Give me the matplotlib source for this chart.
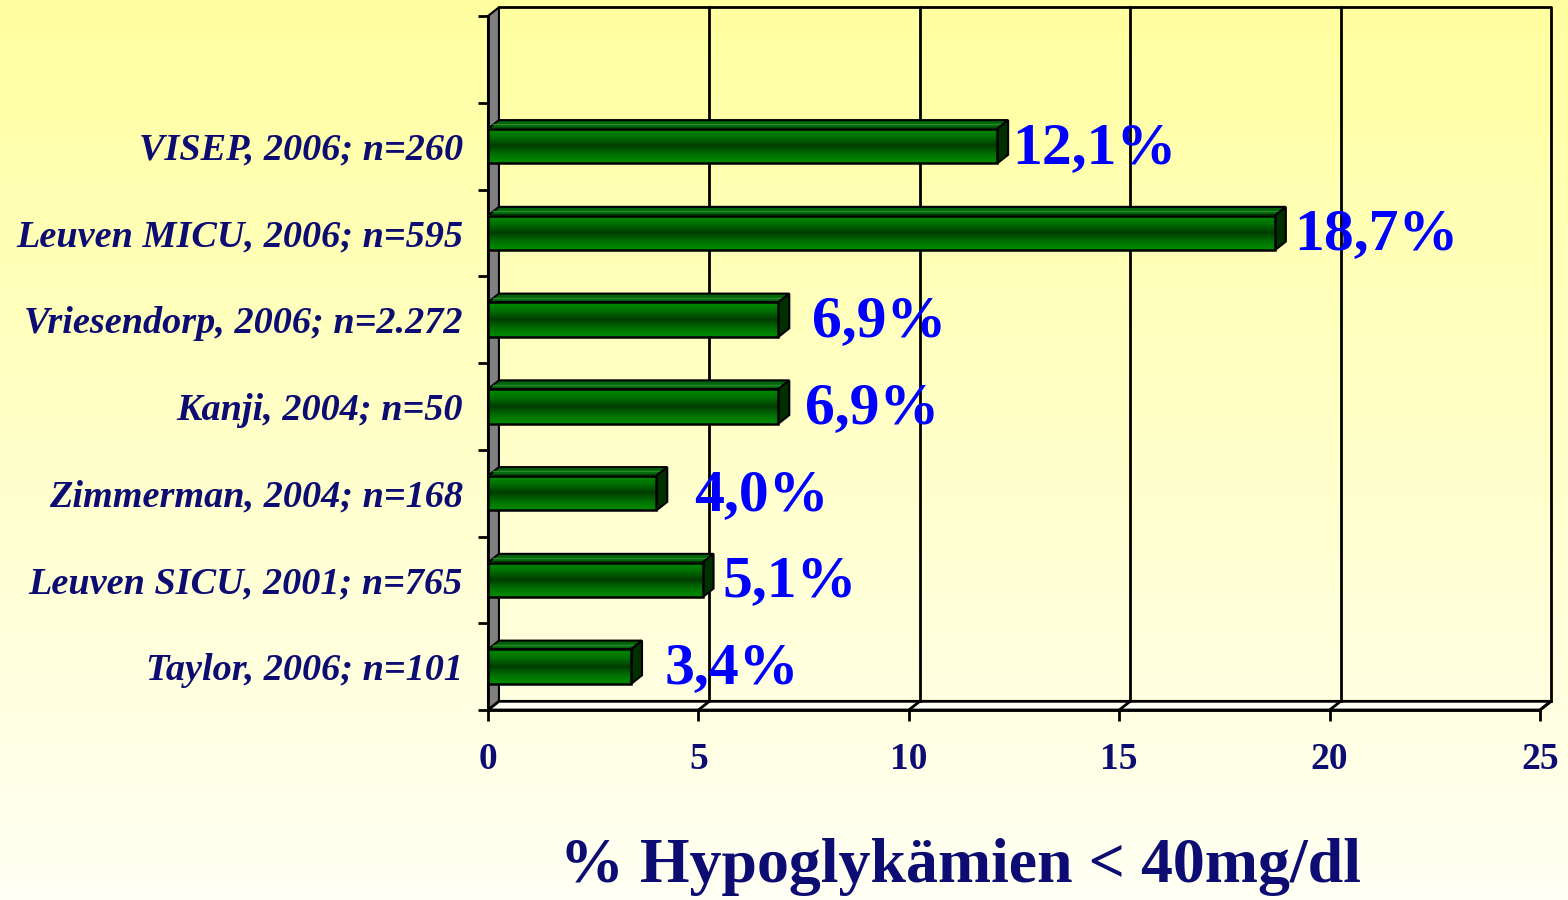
import numpy as np
import matplotlib
matplotlib.use("Agg")
import matplotlib.pyplot as plt
from matplotlib.patches import Polygon
from matplotlib.colors import LinearSegmentedColormap

# data, bottom to top as in the chart
studies = [
    "Taylor, 2006; n=101",
    "Leuven SICU, 2001; n=765",
    "Zimmerman, 2004; n=168",
    "Kanji, 2004; n=50",
    "Vriesendorp, 2006; n=2.272",
    "Leuven MICU, 2006; n=595",
    "VISEP, 2006; n=260",
]
hypo_pct = [3.4, 5.1, 4.0, 6.9, 6.9, 18.7, 12.1]
x_ticks = [0, 5, 10, 15, 20, 25]
x_label = "% Hypoglykämien < 40mg/dl"

# label gaps after the bar end (points), as placed in the original
label_gap = [24, 14, 27, 19, 24, 14, 11]

NAVY = "#0c0c72"
SERIF = "Liberation Serif"
X_MAX = 25
N_SLOTS = len(studies) + 1  # one empty slot on top
DX, DY = 0.26, 0.1  # 3d depth in data units
BAR_H = 0.4

fig = plt.figure(figsize=(15.68, 9), dpi=100)

# background gradient
bg = fig.add_axes([0, 0, 1, 1], zorder=-10)
bg_cmap = LinearSegmentedColormap.from_list("bg", ["#ffffa0", "#fffff4"])
bg.imshow(np.linspace(0, 1, 256).reshape(-1, 1), aspect="auto", cmap=bg_cmap,
          extent=[0, 1, 0, 1], origin="upper")
bg.axis("off")

ax = fig.add_axes([488 / 1568, 190 / 900, (1540 - 488) / 1568, (710 - 16) / 900])
ax.patch.set_alpha(0)
y_lo, y_hi = -0.5, N_SLOTS - 0.5

# left wall (grey) and floor
ax.add_patch(Polygon([(0, y_lo), (DX, y_lo + DY), (DX, y_hi + DY), (0, y_hi)],
                     closed=True, fc="#808080", ec="black", lw=1.5, clip_on=False, zorder=1))
ax.add_patch(Polygon([(0, y_lo), (X_MAX, y_lo), (X_MAX + DX, y_lo + DY), (DX, y_lo + DY)],
                     closed=True, fc="#fffff6", ec="black", lw=2, clip_on=False, zorder=1))
# back wall outline + gridlines
ax.plot([DX, X_MAX + DX, X_MAX + DX], [y_hi + DY, y_hi + DY, y_lo + DY],
        color="black", lw=2, clip_on=False, zorder=1)
for v in x_ticks[1:-1]:
    ax.plot([v + DX, v + DX], [y_lo + DY, y_hi + DY], color="black", lw=2, clip_on=False, zorder=1)
for v in x_ticks[1:]:
    ax.plot([v, v + DX], [y_lo, y_lo + DY], color="black", lw=2, clip_on=False, zorder=1)

# 3d bars
g = np.linspace(0, 1, 60)
shade = np.abs(g - 0.5) * 2
bar_cmap = LinearSegmentedColormap.from_list("bar", ["#003e00", "#007000", "#008c00"])
for i, v in enumerate(hypo_pct):
    y0, y1 = i - BAR_H / 2, i + BAR_H / 2
    ax.add_patch(Polygon([(0, y1), (v, y1), (v + DX, y1 + DY), (DX, y1 + DY)],
                         closed=True, fc="#00640a", ec="black", lw=1.5, zorder=3))
    ax.plot([DX * 0.5, v + DX * 0.5], [y1 + DY * 0.5, y1 + DY * 0.5],
            color="#2a8a2a", lw=1, zorder=3)
    ax.add_patch(Polygon([(v, y0), (v + DX, y0 + DY), (v + DX, y1 + DY), (v, y1)],
                         closed=True, fc="#003000", ec="black", lw=1.5, zorder=3))
    ax.imshow(shade.reshape(-1, 1), aspect="auto", cmap=bar_cmap, origin="upper",
              extent=[0, v, y0, y1], interpolation="bilinear", zorder=4)
    ax.add_patch(plt.Rectangle((0, y0), v, BAR_H, fc="none", ec="black", lw=1.8, zorder=5))
    ax.annotate(f"{v:.1f}".replace(".", ",") + "%", xy=(v, i), xytext=(label_gap[i], -12),
                textcoords="offset points", ha="left", va="baseline",
                fontsize=43, fontweight="bold", family=SERIF, color="#0000ff", zorder=6)

ax.set_xlim(0, X_MAX)
ax.set_ylim(y_lo, y_hi)
for s in ["top", "right"]:
    ax.spines[s].set_visible(False)
ax.spines["left"].set_linewidth(2)
ax.spines["bottom"].set_linewidth(2)
ax.spines["left"].set_zorder(2)

ax.set_xticks(x_ticks)
ax.set_xticklabels([str(t) for t in x_ticks])
ax.tick_params(axis="x", direction="out", length=8, width=2, pad=15, labelsize=27,
               labelcolor=NAVY)
for lab in ax.get_xticklabels():
    lab.set_fontfamily(SERIF)
    lab.set_fontweight("bold")

ax.set_yticks(np.arange(y_lo, y_hi + 0.01, 1.0))
ax.set_yticklabels([])
ax.tick_params(axis="y", which="major", direction="out", length=7.5, width=2)
ax.set_yticks(range(len(studies)), minor=True)
ax.set_yticklabels(studies, minor=True)
ax.tick_params(axis="y", which="minor", length=0, pad=18, labelsize=27.5, labelcolor=NAVY)
for lab in ax.get_yticklabels(minor=True):
    lab.set_fontfamily(SERIF)
    lab.set_fontweight("bold")
    lab.set_fontstyle("italic")

fig.text(960 / 1568, 33 / 900, x_label, ha="center", va="center", fontsize=46,
         fontweight="bold", family=SERIF, color=NAVY)

fig.savefig("out.png", dpi=100)
